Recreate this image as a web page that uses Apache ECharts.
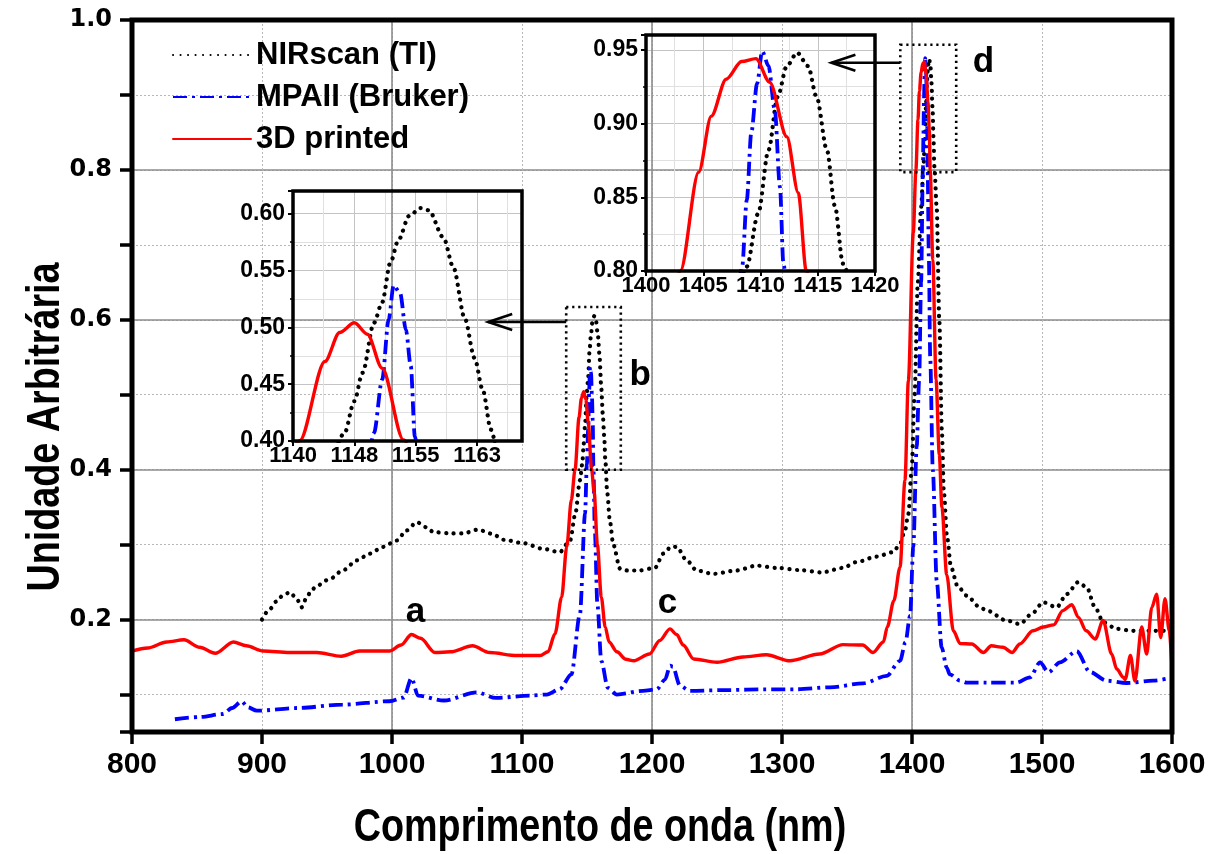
<!DOCTYPE html>
<html>
<head>
<meta charset="utf-8">
<title>Espectros NIR</title>
<script src="https://cdn.jsdelivr.net/npm/echarts@6/dist/echarts.min.js"></script>
<style>
  html, body { margin: 0; padding: 0; background: #ffffff; }
  #chart { width: 1219px; height: 854px; }
</style>
</head>
<body>
<div id="chart"></div>
<script>
// ---- Series values: [wavelength (nm), arbitrary unit] ----
const nirscan = [
  [900, 0.200], [906, 0.214], [911, 0.224], [916, 0.232], [921.5, 0.2365], [926.7, 0.2276],
  [930.5, 0.2164], [934, 0.228], [938, 0.239], [942, 0.245], [952, 0.254], [962.5, 0.266],
  [973, 0.279], [983, 0.288], [993, 0.297], [1003.6, 0.3055], [1011.3, 0.319], [1019, 0.330],
  [1026.7, 0.323], [1032, 0.3166], [1045, 0.315], [1055, 0.315], [1066, 0.320], [1077, 0.3145],
  [1086, 0.3065], [1101, 0.302], [1116, 0.2945], [1129, 0.290], [1137, 0.3055], [1141, 0.341],
  [1144.6, 0.386], [1146.3, 0.407], [1147.5, 0.435], [1148.5, 0.460], [1149.9, 0.504],
  [1150.9, 0.522], [1151.9, 0.557], [1152.9, 0.577], [1154.2, 0.598], [1155.6, 0.605],
  [1156.6, 0.603], [1158.4, 0.579], [1159.6, 0.553], [1161.0, 0.508], [1162.2, 0.473],
  [1163.2, 0.445], [1164.2, 0.410], [1165.5, 0.370], [1167.7, 0.330], [1170.2, 0.300],
  [1175.4, 0.268], [1181, 0.2655], [1190, 0.2655], [1202.3, 0.269], [1208.7, 0.288],
  [1215, 0.2975], [1219, 0.297], [1226.7, 0.279], [1234.4, 0.2655], [1247, 0.261],
  [1265, 0.2655], [1280.5, 0.272], [1296, 0.269], [1314, 0.266], [1330.5, 0.263],
  [1347, 0.269], [1357, 0.2766], [1372.8, 0.284], [1385.6, 0.290], [1390.8, 0.301],
  [1394.6, 0.319], [1397.2, 0.341], [1399.7, 0.399], [1402, 0.500], [1404.5, 0.650],
  [1407, 0.750], [1408.8, 0.803], [1409.8, 0.839], [1410.7, 0.882], [1411.5, 0.918],
  [1412.3, 0.939], [1413.2, 0.948], [1414.15, 0.939], [1414.9, 0.918], [1415.8, 0.882],
  [1416.5, 0.844], [1417.2, 0.805], [1419, 0.750], [1421, 0.600], [1423, 0.450],
  [1424.5, 0.370], [1427, 0.310], [1430, 0.270], [1435, 0.245], [1442, 0.232],
  [1452.3, 0.2164], [1457.5, 0.212], [1472.8, 0.1987], [1483.1, 0.194], [1492, 0.2075],
  [1501, 0.223], [1511.3, 0.2164], [1519, 0.234], [1527.9, 0.250], [1534.4, 0.243],
  [1540.8, 0.2164], [1547.2, 0.1964], [1557.5, 0.1876], [1570.2, 0.185], [1585.6, 0.185],
  [1597, 0.185]
];

const mpaii = [
  [833, 0.067], [852, 0.070], [870, 0.074], [877, 0.082], [884.4, 0.091], [889, 0.083],
  [896, 0.0784], [927, 0.082], [962, 0.0865], [998, 0.091], [1009, 0.096], [1015, 0.122],
  [1020, 0.0985], [1040, 0.092], [1065, 0.103], [1080, 0.0955], [1106, 0.0985], [1119, 0.100],
  [1129, 0.107], [1138, 0.127], [1144.6, 0.2075], [1148.5, 0.341], [1149.9, 0.407],
  [1150.9, 0.454], [1151.7, 0.507], [1152.3, 0.537], [1153.1, 0.530], [1153.8, 0.498],
  [1154.4, 0.466], [1154.9, 0.404], [1156, 0.320], [1158, 0.220], [1161, 0.145],
  [1166, 0.109], [1173, 0.100], [1193, 0.105], [1203.6, 0.107], [1210, 0.120],
  [1214, 0.1385], [1216, 0.137], [1221.5, 0.112], [1229, 0.105], [1260, 0.106],
  [1286, 0.107], [1311, 0.107], [1337, 0.1096], [1362.5, 0.115], [1380.5, 0.125],
  [1390.8, 0.145], [1395, 0.170], [1398.5, 0.205], [1401, 0.297], [1403.6, 0.430],
  [1405.5, 0.519], [1407, 0.650], [1408.4, 0.803], [1408.8, 0.848], [1409.2, 0.894],
  [1409.7, 0.927], [1410.15, 0.949], [1410.7, 0.939], [1411.25, 0.909], [1411.7, 0.857],
  [1412.0, 0.805], [1413, 0.680], [1414, 0.550], [1416, 0.400], [1419, 0.252],
  [1422.8, 0.163], [1426.7, 0.136], [1429, 0.127], [1437, 0.1185], [1442, 0.116],
  [1457.5, 0.116], [1480.5, 0.116], [1490.8, 0.123], [1498.5, 0.143], [1504.9, 0.1296],
  [1513.8, 0.143], [1526.7, 0.158], [1536.9, 0.130], [1549.7, 0.1185], [1565, 0.1154],
  [1585.6, 0.1185], [1598.5, 0.122]
];

const printed3d = [
  [800, 0.158], [812, 0.162], [826.7, 0.170], [840, 0.173], [852, 0.163], [864, 0.155],
  [878, 0.170], [888, 0.165], [901, 0.158], [921, 0.156], [942, 0.156], [961, 0.151],
  [975, 0.158], [998, 0.158], [1007, 0.166], [1015, 0.180], [1022, 0.175], [1033, 0.156],
  [1045, 0.157], [1062, 0.165], [1075, 0.156], [1096, 0.152], [1114, 0.152], [1120, 0.157],
  [1125.4, 0.181], [1130.5, 0.230], [1134.4, 0.297], [1138, 0.360], [1140.8, 0.400],
  [1143.9, 0.470], [1145.7, 0.4955], [1147.5, 0.504], [1149.1, 0.494], [1150.9, 0.464],
  [1153.5, 0.401], [1155.5, 0.370], [1158, 0.300], [1161, 0.230], [1164, 0.190],
  [1167, 0.170], [1173, 0.157], [1180, 0.147], [1186, 0.145], [1198, 0.154], [1206, 0.172],
  [1213.8, 0.1876], [1219, 0.180], [1224, 0.166], [1232, 0.1475], [1250, 0.143],
  [1270, 0.150], [1288, 0.153], [1306, 0.145], [1329, 0.154], [1347, 0.1666], [1362, 0.166],
  [1370, 0.156], [1378, 0.170], [1381, 0.190], [1386, 0.225], [1390.8, 0.270],
  [1394.6, 0.386], [1397.2, 0.519], [1401, 0.716], [1403, 0.800], [1404.6, 0.867],
  [1405.7, 0.905], [1407.0, 0.930], [1408.35, 0.942], [1409.6, 0.944], [1410.8, 0.928],
  [1412.3, 0.891], [1413.3, 0.853], [1414.0, 0.800], [1416, 0.680], [1418.5, 0.520],
  [1421, 0.420], [1423, 0.350], [1426.7, 0.260], [1431.8, 0.185], [1437, 0.168],
  [1446, 0.1675], [1455, 0.156], [1461, 0.165], [1470, 0.163], [1477, 0.156],
  [1483, 0.1675], [1493, 0.185], [1501, 0.190], [1509, 0.193], [1516, 0.212], [1523, 0.220],
  [1528, 0.203], [1534, 0.185], [1541, 0.174], [1547, 0.199], [1553.6, 0.154],
  [1557.5, 0.134], [1562.5, 0.123], [1564, 0.120], [1568, 0.152], [1571.5, 0.118],
  [1576.7, 0.190], [1580.5, 0.154], [1584.4, 0.216], [1588.2, 0.234], [1591.3, 0.176],
  [1594.6, 0.228], [1597.9, 0.185], [1600, 0.136]
];

// ---- Legend names ----
const seriesNames = ['NIRscan (TI)', 'MPAII (Bruker)', '3D printed'];

// ---- Axis ranges: main plot and the two zoom insets ----
const mainX = [800, 1600];
const mainY = [0.05, 1.0];
const insetBX = [1140, 1168];
const insetBY = [0.40, 0.62];
const insetDX = [1400, 1420];
const insetDY = [0.80, 0.96];

// ---- Annotations in data units of the main plot ----
// zoom boxes: [x0, x1, y0, y1]
const zoomBoxes = [[1134, 1176, 0.40, 0.617], [1391, 1434, 0.797, 0.967]];
// arrows: [x start, x tip, y]
const zoomArrows = [[1134, 1074, 0.597], [1391, 1338, 0.943]];
// peak letters: [letter, x, y]
const peakLetters = [['a', 1018, 0.209], ['b', 1191, 0.526], ['c', 1212, 0.221], ['d', 1455, 0.944]];

const BOLD = '"Liberation Sans", Arial, Helvetica, sans-serif';

const styles = [
  { color: '#000000', lineStyle: { color: '#000000', width: 4.2, type: [0.1, 7.4], cap: 'round' } },
  { color: '#0000ff', lineStyle: { color: '#0000ff', width: 3.8, type: [14, 5, 3, 5], cap: 'butt' } },
  { color: '#ff0000', lineStyle: { color: '#ff0000', width: 3.4, type: 'solid', cap: 'round' } }
];
const datasets = [nirscan, mpaii, printed3d];

const chart = echarts.init(document.getElementById('chart'), null, { renderer: 'canvas' });

function lineSeries(i, axisIndex) {
  return {
    type: 'line',
    name: seriesNames[i],
    data: datasets[i],
    xAxisIndex: axisIndex,
    yAxisIndex: axisIndex,
    showSymbol: false,
    symbol: 'none',
    smooth: 0.3,
    smoothMonotone: 'x',
    clip: true,
    silent: true,
    color: styles[i].color,
    lineStyle: styles[i].lineStyle,
    z: 2 + i
  };
}

function insetXAxis(grid, range, step, showMax) {
  return {
    gridIndex: grid, type: 'value', min: range[0], max: range[1], interval: step,
    axisLine: { show: false },
    axisTick: { show: true, inside: false, length: 5, lineStyle: { color: '#000', width: 2 } },
    axisLabel: {
      showMaxLabel: showMax, margin: 4, color: '#000',
      fontFamily: BOLD, fontWeight: 'bold', fontSize: 22,
      formatter: v => String(Math.round(v))
    },
    splitLine: { show: true, lineStyle: { color: '#c4c4c4', width: 1 } },
    minorTick: { show: false, splitNumber: 2 },
    minorSplitLine: { show: true, lineStyle: { color: '#e0e0e0', width: 1 } }
  };
}
function insetYAxis(grid, range, step) {
  return {
    gridIndex: grid, type: 'value', min: range[0], max: range[1], interval: step,
    axisLine: { show: false },
    axisTick: { show: true, inside: false, length: 5, lineStyle: { color: '#000', width: 2 } },
    axisLabel: {
      showMaxLabel: false, margin: 8, color: '#000',
      fontFamily: BOLD, fontWeight: 'bold', fontSize: 23,
      formatter: v => v.toFixed(2)
    },
    splitLine: { show: true, lineStyle: { color: '#c4c4c4', width: 1 } },
    minorTick: { show: true, splitNumber: 2, length: 3, lineStyle: { color: '#000', width: 1.5 } },
    minorSplitLine: { show: true, lineStyle: { color: '#e0e0e0', width: 1 } }
  };
}

const isEvenTenth = v => {
  const t = v * 10;
  return Math.abs(t - Math.round(t)) < 1e-6 && Math.round(t) % 2 === 0 && Math.round(t) > 0;
};

const series = [];
[0, 1, 2].forEach(i => series.push(lineSeries(i, 0)));
[0, 1, 2].forEach(i => series.push(lineSeries(i, 2)));
[0, 1, 2].forEach(i => series.push(lineSeries(i, 3)));

// dotted zoom boxes
series.push({
  type: 'custom', xAxisIndex: 0, yAxisIndex: 0, clip: false, silent: true, z: 8,
  data: zoomBoxes,
  renderItem: (params, api) => {
    const p0 = api.coord([api.value(0), api.value(3)]);
    const p1 = api.coord([api.value(1), api.value(2)]);
    return {
      type: 'rect',
      shape: { x: p0[0], y: p0[1], width: p1[0] - p0[0], height: p1[1] - p0[1] },
      style: { fill: null, stroke: '#000', lineWidth: 2.6, lineDash: [2.2, 3.8] }
    };
  }
});
// arrows from each box to its inset
series.push({
  type: 'custom', xAxisIndex: 0, yAxisIndex: 0, clip: false, silent: true, z: 8,
  data: zoomArrows,
  renderItem: (params, api) => {
    const a = api.coord([api.value(0), api.value(2)]);
    const b = api.coord([api.value(1), api.value(2)]);
    return {
      type: 'group',
      children: [
        { type: 'line', shape: { x1: a[0], y1: a[1], x2: b[0], y2: b[1] },
          style: { stroke: '#000', lineWidth: 2.6 } },
        { type: 'polyline', shape: { points: [[b[0] + 24, b[1] - 8], [b[0], b[1]], [b[0] + 24, b[1] + 8]] },
          style: { stroke: '#000', lineWidth: 2.6, fill: null } }
      ]
    };
  }
});
// peak letters
series.push({
  type: 'custom', xAxisIndex: 0, yAxisIndex: 0, clip: false, silent: true, z: 8,
  data: peakLetters.map(d => [d[1], d[2]]),
  renderItem: (params, api) => {
    const p = api.coord([api.value(0), api.value(1)]);
    return {
      type: 'text', x: p[0], y: p[1],
      style: {
        text: peakLetters[params.dataIndex][0], fill: '#000',
        font: 'bold 35px ' + BOLD, align: 'center', verticalAlign: 'middle'
      }
    };
  }
});

const option = {
  backgroundColor: '#ffffff',
  animation: false,
  legend: {
    data: seriesNames,
    orient: 'vertical',
    left: 172, top: 39, padding: 0,
    itemWidth: 78, itemHeight: 14, itemGap: 10,
    selectedMode: false,
    itemStyle: { color: 'rgba(0,0,0,0)', borderWidth: 0, opacity: 0 },
    textStyle: { fontFamily: BOLD, fontWeight: 'bold', fontSize: 31, color: '#000', lineHeight: 32 }
  },
  grid: [
    { left: 132, top: 20, width: 1040, height: 712, show: true, borderColor: '#000', borderWidth: 5, backgroundColor: 'transparent', z: 6 },
    { left: 293, top: 191, width: 229, height: 250, show: true, borderColor: '#000', borderWidth: 3.5, backgroundColor: 'transparent', z: 6 },
    { left: 646, top: 35, width: 229, height: 236, show: true, borderColor: '#000', borderWidth: 3.5, backgroundColor: 'transparent', z: 6 }
  ],
  xAxis: [
    {
      gridIndex: 0, type: 'value', min: mainX[0], max: mainX[1], interval: 100,
      axisLine: { show: false },
      axisTick: { show: true, inside: false, length: 12, lineStyle: { color: '#000', width: 3.5 } },
      axisLabel: {
        margin: 18, color: '#000', fontFamily: BOLD, fontWeight: 'bold', fontSize: 30,
        formatter: v => String(Math.round(v))
      },
      splitLine: { show: true, lineStyle: { color: '#b8b8b8', width: 1, type: [2, 2] } }
    },
    {
      gridIndex: 0, type: 'value', min: mainX[0], max: mainX[1], interval: 200,
      axisLine: { show: false }, axisTick: { show: false }, axisLabel: { show: false },
      splitLine: { show: true, lineStyle: { color: '#8c8c8c', width: 1.6 } }
    },
    insetXAxis(1, insetBX, 7.5, false),
    insetXAxis(2, insetDX, 5, true)
  ],
  yAxis: [
    {
      gridIndex: 0, type: 'value', min: mainY[0], max: mainY[1], splitNumber: 10,
      axisLine: { show: false },
      axisTick: { show: true, inside: false, length: 12, lineStyle: { color: '#000', width: 3.5 } },
      axisLabel: {
        margin: 20, color: '#000', fontFamily: '"DejaVu Sans", Verdana, sans-serif',
        fontWeight: 'bold', fontSize: 24,
        formatter: v => isEvenTenth(v) ? v.toFixed(1) : ''
      },
      splitLine: { show: true, lineStyle: { color: '#b8b8b8', width: 1, type: [2, 2] } }
    },
    {
      gridIndex: 0, type: 'value', min: mainY[0], max: mainY[1], splitNumber: 5,
      axisLine: { show: false }, axisTick: { show: false }, axisLabel: { show: false },
      splitLine: { show: true, lineStyle: { color: '#8c8c8c', width: 1.6 } }
    },
    insetYAxis(1, insetBY, 0.05),
    insetYAxis(2, insetDY, 0.05)
  ],
  graphic: [
    {
      type: 'text', x: 46, y: 427, rotation: Math.PI / 2, scaleX: 0.82,
      style: { text: 'Unidade Arbitrária', font: 'bold 46px ' + BOLD, fill: '#000', align: 'center', verticalAlign: 'middle' }
    },
    {
      type: 'text', x: 600, y: 828, scaleX: 0.82,
      style: { text: 'Comprimento de onda (nm)', font: 'bold 46px ' + BOLD, fill: '#000', align: 'center', verticalAlign: 'middle' }
    }
  ],
  series: series
};

chart.setOption(option);
</script>
</body>
</html>
